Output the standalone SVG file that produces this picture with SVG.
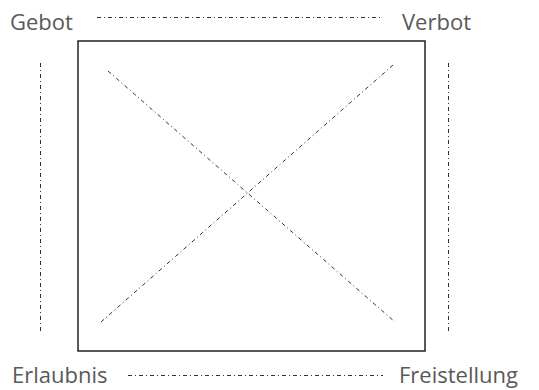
<svg xmlns="http://www.w3.org/2000/svg" width="539" height="390" viewBox="0 0 539 390">
<style>
.lbl{font-family:"Open Sans","Liberation Sans",sans-serif;font-size:22px;fill:#595959}
.dd{stroke:#333;stroke-width:1;fill:none;stroke-dasharray:4 3 1 3}
</style>
<rect width="539" height="390" fill="#fff"/>
<g id="square"><rect x="78" y="41" width="347" height="310" fill="none" stroke="#222" stroke-width="1.5"/></g>
<g id="gebot"><text class="lbl" x="10" y="30">Gebot</text></g>
<g id="verbot"><text class="lbl" x="402" y="30">Verbot</text></g>
<g id="erlaubnis"><text class="lbl" x="12" y="383">Erlaubnis</text></g>
<g id="freistellung"><text class="lbl" x="399" y="383">Freistellung</text></g>
<g id="connectors">
<line class="dd" x1="97" y1="17.5" x2="383" y2="17.5"/>
<line class="dd" x1="128" y1="375.5" x2="383" y2="375.5"/>
<line class="dd" x1="40.5" y1="63" x2="40.5" y2="334"/>
<line class="dd" x1="448.5" y1="63" x2="448.5" y2="334"/>
<line class="dd" x1="108" y1="71" x2="395" y2="322"/>
<line class="dd" x1="393" y1="65" x2="101" y2="322"/>
</g>
</svg>
